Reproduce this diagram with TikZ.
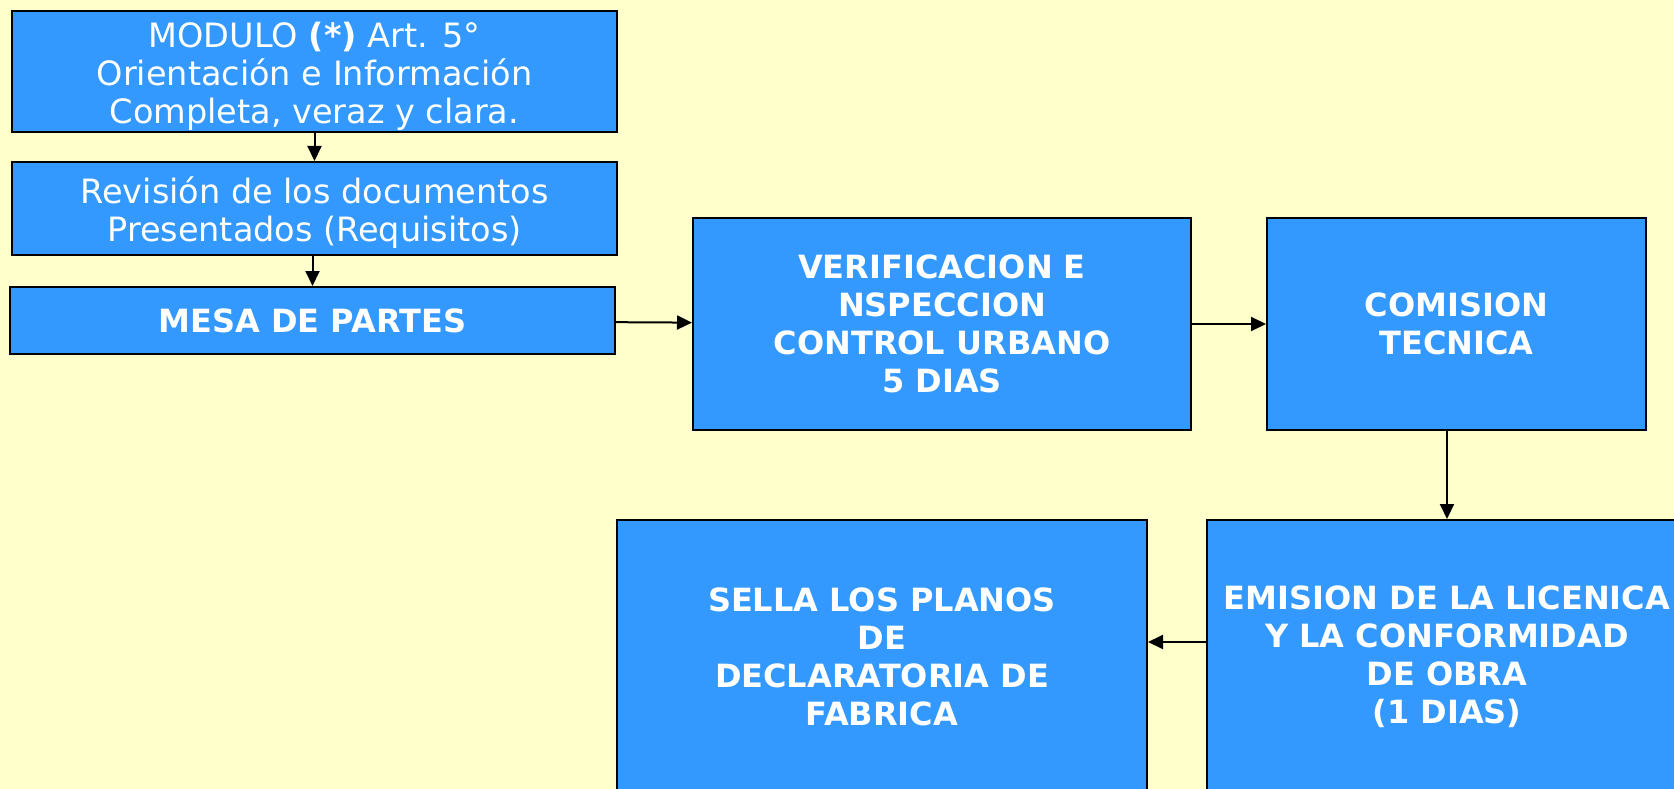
\documentclass[tikz,border=0pt]{standalone}
\usepackage{fontspec}
\setmainfont{DejaVu Sans}
\usetikzlibrary{arrows.meta}
\definecolor{slidebg}{RGB}{255,255,204}
\definecolor{boxblue}{RGB}{51,153,255}

\begin{document}
\begin{tikzpicture}[x=1pt, y=-1pt, every node/.append style={font=\fontsize{33.5pt}{38pt}\selectfont},
  procbox/.style={draw=black, line width=2pt, fill=boxblue, text=white, align=center, inner sep=0pt},
  bigbox/.style={procbox, font=\fontsize{32pt}{38pt}\selectfont\bfseries},
  flow/.style={line width=2pt, -{Triangle[length=15pt, width=14pt]}}]
% background
\useasboundingbox (0,0) rectangle (1674,789);
\clip (0,0) rectangle (1674,789);
\fill[slidebg] (0,0) rectangle (1674,789);

% left column
\node[procbox, minimum width=605pt, minimum height=121pt] (modulo)   at (314.5,71.5)  {\rule{0pt}{35pt}MODULO \textbf{(*)} Art. 5°\\Orientación e Información\\Completa, veraz y clara.};
\node[procbox, minimum width=605pt, minimum height=93pt]  (revision) at (314.5,208.5) {\rule{0pt}{35pt}Revisión de los documentos\\Presentados (Requisitos)};
\node[bigbox,  minimum width=605pt, minimum height=67pt]  (mesa)     at (312.5,320.5) {MESA DE PARTES};

% steps
\node[bigbox, minimum width=498pt, minimum height=212pt] (verif)    at (942,324)    {VERIFICACION E\\ NSPECCION\\CONTROL URBANO\\5 DIAS};
\node[bigbox, minimum width=379pt, minimum height=212pt] (comision) at (1456.5,324) {COMISION\\TECNICA};
\node[bigbox, minimum width=530pt, minimum height=274pt] (sella)    at (882,657)    {SELLA LOS PLANOS\\DE\\DECLARATORIA DE\\FABRICA};
\node[bigbox, minimum width=480pt, minimum height=274pt] (emision)  at (1447,657)   {EMISION DE LA LICENICA\\Y LA CONFORMIDAD\\DE OBRA\\(1 DIAS)};

% arrows
\draw[flow] (modulo) -- (revision);
\draw[flow] (mesa.north |- revision.south) -- (mesa);
\draw[flow] (mesa) -- (verif);
\draw[flow] (verif) -- (comision);
\draw[flow] (emision.north |- comision.south) -- (emision);
\draw[flow] ([yshift=15pt]emision.west) -- ([yshift=15pt]sella.east);

\end{tikzpicture}
\end{document}
